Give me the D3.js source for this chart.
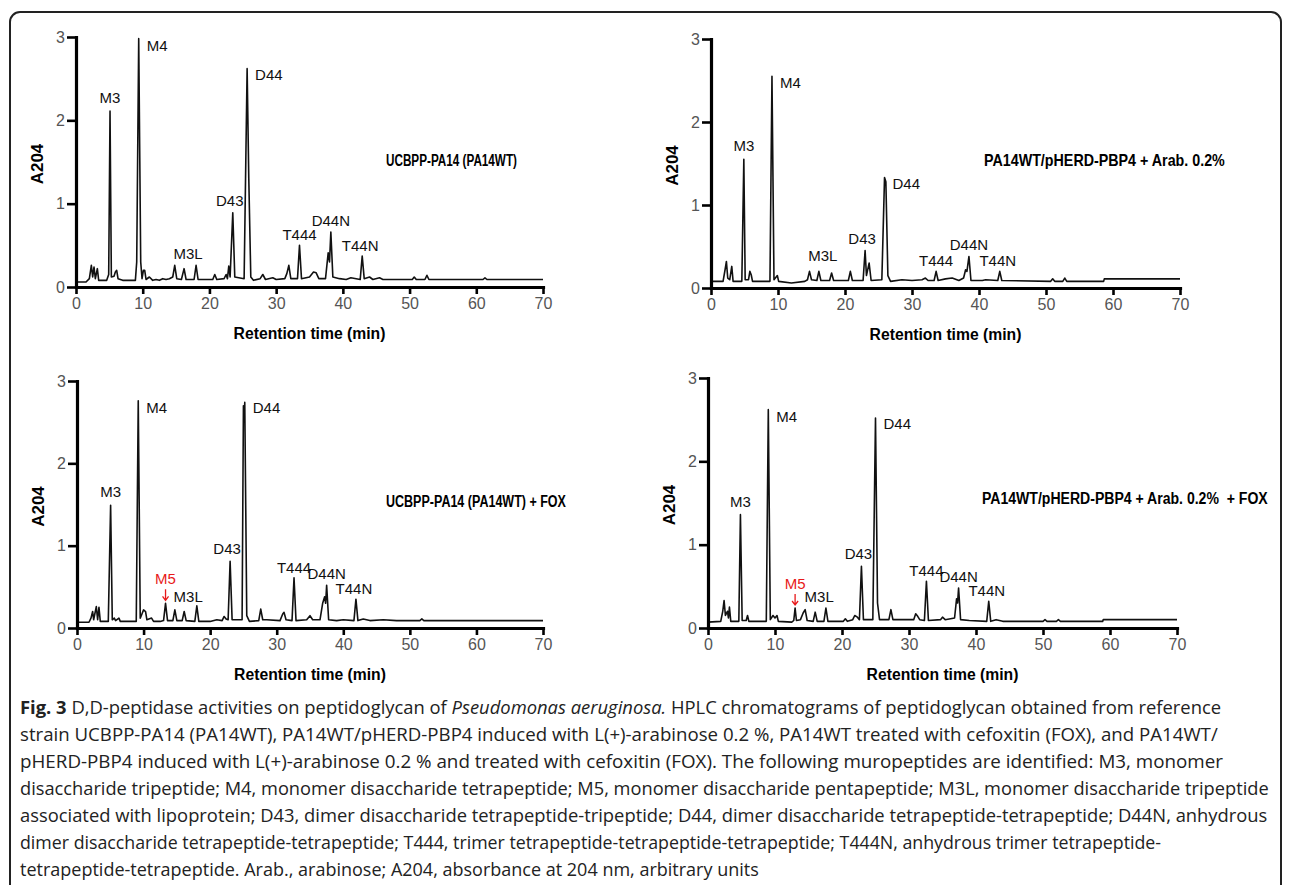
<!DOCTYPE html>
<html>
<head>
<meta charset="utf-8">
<script src="https://cdn.jsdelivr.net/npm/d3@7"></script>
<style>
  body { margin: 0; background: #fff; }
  svg { display: block; }
  .axis text { font-family: "Liberation Sans", Arial, sans-serif; font-size: 16px; fill: #555; }
  .axlabel { font-family: "Liberation Sans", Arial, sans-serif; font-weight: bold; fill: #000; }
  .peak { font-family: "Liberation Sans", Arial, sans-serif; font-size: 15px; fill: #111; }
  .caption { font-family: "Open Sans", sans-serif; font-size: 18px; fill: #222; }
</style>
</head>
<body>
<div class="chart"></div>
<script>
// retention time (min), A204
var traceWT = [[0,0.06],[1.5,0.06],[2.0,0.1],[2.3,0.26],[2.5,0.12],[2.7,0.24],[2.9,0.1],[3.2,0.22],[3.4,0.08],[4.6,0.08],[4.9,0.15],[5.1,2.11],[5.3,0.12],[5.7,0.13],[5.9,0.18],[6.1,0.2],[6.3,0.1],[7,0.08],[8.9,0.08],[9.1,0.3],[9.4,2.98],[9.7,0.3],[9.9,0.1],[10.1,0.2],[10.3,0.2],[10.5,0.09],[11,0.12],[11.5,0.08],[12,0.09],[12.5,0.08],[13,0.1],[13.5,0.09],[14,0.1],[14.5,0.12],[14.8,0.26],[15.1,0.1],[15.8,0.09],[16.2,0.22],[16.5,0.09],[17.7,0.09],[18.0,0.26],[18.3,0.09],[20.5,0.09],[20.8,0.15],[21.1,0.09],[22.2,0.1],[22.5,0.15],[22.7,0.1],[22.9,0.25],[23.1,0.12],[23.5,0.89],[23.8,0.12],[25.2,0.1],[25.45,1.5],[25.65,2.62],[25.9,1.3],[26.2,0.12],[26.6,0.08],[27.6,0.1],[28.0,0.15],[28.4,0.09],[29.5,0.11],[30,0.09],[31.3,0.1],[31.6,0.16],[31.9,0.26],[32.2,0.1],[33.2,0.1],[33.5,0.5],[33.8,0.1],[35.0,0.12],[35.6,0.18],[36.0,0.17],[36.4,0.1],[37.4,0.1],[37.8,0.41],[38.0,0.3],[38.2,0.66],[38.5,0.12],[39.5,0.1],[40.5,0.09],[41.2,0.11],[42.6,0.09],[42.9,0.37],[43.2,0.1],[44,0.12],[44.5,0.09],[45.5,0.11],[46,0.09],[50.4,0.09],[50.7,0.12],[51,0.09],[52.3,0.09],[52.6,0.14],[52.9,0.09],[61,0.09],[61.3,0.11],[61.6,0.09],[70,0.09]];

var tracePBP4 = [[0,0.08],[1.8,0.08],[2.1,0.22],[2.3,0.32],[2.5,0.12],[2.8,0.1],[3.1,0.26],[3.3,0.08],[4.6,0.08],[4.9,1.55],[5.1,0.1],[5.6,0.1],[5.8,0.2],[6.0,0.16],[6.2,0.08],[8.8,0.08],[9.1,2.55],[9.4,0.1],[9.9,0.15],[10.1,0.08],[12,0.06],[14,0.08],[14.4,0.1],[14.7,0.2],[15,0.1],[15.8,0.09],[16.1,0.2],[16.4,0.09],[17.7,0.09],[18.0,0.18],[18.3,0.09],[20.5,0.09],[20.8,0.2],[21.1,0.09],[22.7,0.09],[23.0,0.45],[23.2,0.15],[23.6,0.3],[23.9,0.09],[25.5,0.1],[25.9,1.33],[26.1,1.28],[26.4,0.15],[26.8,0.08],[28.5,0.1],[30,0.09],[31.5,0.1],[32,0.12],[32.4,0.09],[33.3,0.09],[33.6,0.2],[33.9,0.09],[35,0.11],[36,0.12],[37,0.09],[37.7,0.12],[38.0,0.22],[38.2,0.2],[38.5,0.38],[38.8,0.09],[40.5,0.09],[41,0.1],[42.8,0.09],[43.1,0.2],[43.4,0.09],[50.7,0.08],[51,0.11],[51.3,0.08],[52.5,0.08],[52.8,0.12],[53.1,0.08],[58.6,0.08],[58.7,0.11],[70,0.11]];

var traceWTFox = [[0,0.07],[1.8,0.07],[2.1,0.12],[2.35,0.2],[2.5,0.1],[2.9,0.26],[3.1,0.1],[3.3,0.25],[3.5,0.08],[4.7,0.08],[5.05,1.49],[5.3,0.1],[5.6,0.12],[5.8,0.09],[6.3,0.12],[6.5,0.08],[8.9,0.08],[9.2,2.76],[9.5,0.12],[9.8,0.18],[10.0,0.22],[10.3,0.2],[10.5,0.1],[11.2,0.12],[11.5,0.08],[12.5,0.08],[13.0,0.09],[13.3,0.3],[13.6,0.09],[14.4,0.09],[14.7,0.22],[15.0,0.09],[15.8,0.09],[16.1,0.2],[16.4,0.09],[17.7,0.08],[18.0,0.27],[18.3,0.08],[20,0.08],[21,0.1],[21.8,0.09],[22.1,0.14],[22.4,0.11],[22.7,0.1],[23.0,0.81],[23.3,0.1],[24.8,0.1],[25.0,2.7],[25.1,2.5],[25.2,2.74],[25.5,0.15],[25.9,0.08],[27.3,0.09],[27.6,0.23],[27.9,0.1],[28.5,0.1],[30.5,0.09],[30.9,0.17],[31.1,0.19],[31.4,0.1],[32.3,0.09],[32.6,0.61],[32.9,0.09],[34.5,0.1],[35,0.15],[35.4,0.1],[36.5,0.1],[36.9,0.3],[37.2,0.38],[37.35,0.3],[37.5,0.52],[37.8,0.1],[39,0.09],[40,0.1],[41.6,0.09],[41.9,0.35],[42.2,0.09],[43,0.11],[44,0.09],[46,0.1],[48,0.09],[51.5,0.09],[51.8,0.11],[52.1,0.09],[70,0.09]];

var tracePBP4Fox = [[0,0.07],[1.9,0.08],[2.2,0.2],[2.4,0.33],[2.6,0.15],[2.9,0.2],[3.05,0.12],[3.2,0.25],[3.4,0.08],[4.6,0.08],[4.84,1.36],[5.1,0.09],[5.7,0.09],[5.9,0.15],[6.1,0.08],[8.7,0.08],[9.0,2.62],[9.3,0.1],[9.7,0.15],[10.0,0.12],[10.3,0.15],[10.5,0.08],[12.5,0.07],[12.8,0.09],[13.0,0.24],[13.2,0.09],[13.8,0.1],[14.2,0.18],[14.5,0.22],[14.8,0.09],[15.7,0.08],[16.0,0.19],[16.3,0.08],[17.3,0.08],[17.6,0.24],[17.9,0.08],[20.2,0.08],[20.5,0.11],[20.8,0.08],[21.6,0.1],[21.9,0.15],[22.3,0.13],[22.6,0.1],[22.9,0.74],[23.2,0.1],[24.6,0.1],[25.0,2.52],[25.3,0.3],[25.6,0.1],[27.0,0.1],[27.3,0.22],[27.6,0.1],[30.7,0.1],[31.0,0.17],[31.3,0.14],[31.6,0.1],[32.3,0.09],[32.6,0.56],[32.9,0.09],[34.7,0.1],[35.0,0.13],[35.4,0.1],[36.8,0.12],[37.1,0.35],[37.25,0.3],[37.4,0.48],[37.7,0.1],[39,0.09],[41.6,0.08],[41.9,0.32],[42.2,0.08],[43,0.1],[44,0.08],[50,0.08],[50.3,0.1],[50.6,0.08],[52,0.08],[52.3,0.1],[52.6,0.08],[58.9,0.08],[59,0.1],[70,0.1]];

// labelled peaks: name, retention time, apex A204
var peaksWT = [["M3",5.1,2.11],["M4",9.4,2.98],["M3L",16.2,0.22],["D43",23.5,0.89],["D44",25.65,2.62],["T444",33.5,0.5],["D44N",38.2,0.66],["T44N",42.9,0.37]];
var peaksPBP4 = [["M3",4.9,1.55],["M4",9.1,2.55],["M3L",16.1,0.2],["D43",23.0,0.45],["D44",25.9,1.33],["T444",33.6,0.2],["D44N",38.5,0.38],["T44N",43.1,0.2]];
var peaksWTFox = [["M3",5.05,1.49],["M4",9.2,2.76],["M5",13.3,0.3],["M3L",16.1,0.2],["D43",23.0,0.81],["D44",25.2,2.74],["T444",32.6,0.61],["D44N",37.5,0.52],["T44N",41.9,0.35]];
var peaksPBP4Fox = [["M3",4.84,1.36],["M4",9.0,2.62],["M5",13.0,0.24],["M3L",16.0,0.19],["D43",22.9,0.74],["D44",25.0,2.52],["T444",32.6,0.56],["D44N",37.4,0.48],["T44N",41.9,0.32]];

var panelTitles = ["UCBPP-PA14 (PA14WT)", "PA14WT/pHERD-PBP4 + Arab. 0.2%", "UCBPP-PA14 (PA14WT) + FOX", "PA14WT/pHERD-PBP4 + Arab. 0.2%  + FOX"];
var xTicks = [0, 10, 20, 30, 40, 50, 60, 70];
var yTicks = [0, 1, 2, 3];
var xTitle = "Retention time (min)";
var yTitle = "A204";

var captionLines = [
  [["Fig. 3", "b"], [" D,D-peptidase activities on peptidoglycan of ", ""], ["Pseudomonas aeruginosa.", "i"], [" HPLC chromatograms of peptidoglycan obtained from reference", ""]],
  [["strain UCBPP-PA14 (PA14WT), PA14WT/pHERD-PBP4 induced with L(+)-arabinose 0.2 %, PA14WT treated with cefoxitin (FOX), and PA14WT/", ""]],
  [["pHERD-PBP4 induced with L(+)-arabinose 0.2 % and treated with cefoxitin (FOX). The following muropeptides are identified: M3, monomer", ""]],
  [["disaccharide tripeptide; M4, monomer disaccharide tetrapeptide; M5, monomer disaccharide pentapeptide; M3L, monomer disaccharide tripeptide", ""]],
  [["associated with lipoprotein; D43, dimer disaccharide tetrapeptide-tripeptide; D44, dimer disaccharide tetrapeptide-tetrapeptide; D44N, anhydrous", ""]],
  [["dimer disaccharide tetrapeptide-tetrapeptide; T444, trimer tetrapeptide-tetrapeptide-tetrapeptide; T444N, anhydrous trimer tetrapeptide-", ""]],
  [["tetrapeptide-tetrapeptide. Arab., arabinose; A204, absorbance at 204 nm, arbitrary units", ""]]
];
// width of each wrapped caption line in the reference (null = natural width)
var captionWidths = [1202, 1198, 1204, 1250, 1248, 1142, null];

var width = 1290, height = 885;

var svg = d3.select(".chart").append("svg")
    .attr("width", width)
    .attr("height", height);

// outer frame, open at the bottom
svg.append("path")
    .attr("d", "M10,895 V22 A10,10 0 0 1 20,12 H1271 A10,10 0 0 1 1281,22 V895")
    .attr("fill", "none")
    .attr("stroke", "#222")
    .attr("stroke-width", 2);

// squeeze a text horizontally to a given width
function squeeze(t, x, y, w) {
    var natural = t.node().getComputedTextLength();
    var k = Math.min(1, w / natural);
    t.attr("transform", "translate(" + x + "," + y + ") scale(" + k + ",1)");
}

// plot boxes: left, top, width, height, title position, title width
var panels = [
  {trace: traceWT, peaks: peaksWT, title: panelTitles[0], left: 76, top: 37, w: 467, h: 250, tx: 310, ty: 129, tw: 131},
  {trace: tracePBP4, peaks: peaksPBP4, title: panelTitles[1], left: 711, top: 39, w: 469, h: 249, tx: 273, ty: 127, tw: 241},
  {trace: traceWTFox, peaks: peaksWTFox, title: panelTitles[2], left: 77, top: 381, w: 466, h: 247, tx: 309, ty: 126, tw: 180},
  {trace: tracePBP4Fox, peaks: peaksPBP4Fox, title: panelTitles[3], left: 708, top: 378, w: 469, h: 250, tx: 274, ty: 126, tw: 286}
];

var labelPlace = {
  M3:   {dx: 0,  dy: -8,  anchor: "middle"},
  M4:   {dx: 8,  dy: 12,  anchor: "start"},
  D44:  {dx: 8,  dy: 11,  anchor: "start"},
  D43:  {dx: -3, dy: -7,  anchor: "middle"},
  M3L:  {dx: 4,  dy: -10, anchor: "middle"},
  T444: {dx: 0,  dy: -5,  anchor: "middle"},
  D44N: {dx: 0,  dy: -6,  anchor: "middle"},
  T44N: {dx: -2, dy: -5,  anchor: "middle"}
};

panels.forEach(function(p) {
    var g = svg.append("g")
        .attr("transform", "translate(" + p.left + "," + p.top + ")");

    var xScale = d3.scaleLinear().domain([0, 70]).range([0, p.w]);
    var yScale = d3.scaleLinear().domain([0, 3]).range([p.h, 0]);

    var line = d3.line()
        .x(function(d) { return xScale(d[0]); })
        .y(function(d) { return yScale(d[1]); });

    g.append("path")
        .datum(p.trace)
        .attr("fill", "none")
        .attr("stroke", "#111")
        .attr("stroke-width", 1.6)
        .attr("stroke-linejoin", "round")
        .attr("d", line);

    var xAxisGroup = g.append("g")
        .attr("class", "axis x-axis")
        .attr("transform", "translate(0," + p.h + ")")
        .call(d3.axisBottom(xScale).tickValues(xTicks).tickSize(7).tickSizeOuter(0).tickPadding(4));

    var yAxisGroup = g.append("g")
        .attr("class", "axis y-axis")
        .call(d3.axisLeft(yScale).tickValues(yTicks).tickFormat(d3.format("d")).tickSize(9).tickSizeOuter(0).tickPadding(2));

    [xAxisGroup, yAxisGroup].forEach(function(ax) {
        ax.select(".domain")
            .attr("stroke", "#000")
            .attr("stroke-width", 3.2)
            .attr("stroke-linecap", "square");
        ax.selectAll(".tick line")
            .attr("stroke", "#000")
            .attr("stroke-width", 2.6);
    });

    var xt = g.append("text")
        .attr("class", "axlabel")
        .attr("text-anchor", "middle")
        .attr("font-size", 17)
        .text(xTitle);
    squeeze(xt, p.w / 2, p.h + 52, 152);

    g.append("text")
        .attr("class", "axlabel")
        .attr("text-anchor", "middle")
        .attr("transform", "translate(-33," + (p.h / 2 + 2) + ") rotate(-90)")
        .attr("font-size", 17)
        .text(yTitle);

    var tt = g.append("text")
        .attr("class", "axlabel")
        .attr("font-size", 16)
        .style("white-space", "pre")
        .text(p.title);
    squeeze(tt, p.tx, p.ty, p.tw);

    p.peaks.forEach(function(pk) {
        var px = xScale(pk[1]), py = yScale(pk[2]);
        if (pk[0] === "M5") {
            g.append("path")
                .attr("d", "M" + px + "," + (py - 14) + "V" + (py - 3) +
                           "M" + (px - 3) + "," + (py - 7) + "L" + px + "," + (py - 3) + "L" + (px + 3) + "," + (py - 7))
                .attr("fill", "none")
                .attr("stroke", "#e8191a")
                .attr("stroke-width", 1.3);
            g.append("text")
                .attr("class", "peak")
                .attr("text-anchor", "middle")
                .attr("x", px)
                .attr("y", py - 19)
                .style("fill", "#e8191a")
                .text(pk[0]);
            return;
        }
        var pl = labelPlace[pk[0]];
        g.append("text")
            .attr("class", "peak")
            .attr("text-anchor", pl.anchor)
            .attr("x", px + pl.dx)
            .attr("y", py + pl.dy)
            .text(pk[0]);
    });
});

// caption
var cap = svg.append("g");
captionLines.forEach(function(segs, i) {
    var t = cap.append("text")
        .attr("class", "caption");
    segs.forEach(function(s) {
        t.append("tspan")
            .style("font-weight", s[1] === "b" ? "bold" : null)
            .style("font-style", s[1] === "i" ? "italic" : null)
            .text(s[0]);
    });
    var w = captionWidths[i];
    if (w) {
        var natural = t.node().getComputedTextLength();
        t.attr("transform", "translate(20," + (714 + i * 27) + ") scale(" + (w / natural) + ",1)");
    } else {
        t.attr("transform", "translate(20," + (714 + i * 27) + ")");
    }
});
</script>
</body>
</html>
